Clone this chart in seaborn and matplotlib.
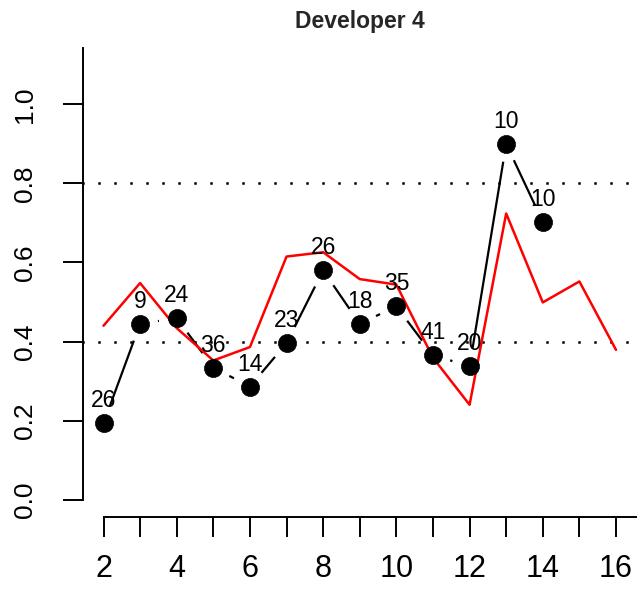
import numpy as np
import pandas as pd
import matplotlib
matplotlib.use("Agg")
import matplotlib.pyplot as plt
import seaborn as sns
from matplotlib.collections import LineCollection

# ---- data ----
title = "Developer 4"
obs_x = [2, 3, 4, 5, 6, 7, 8, 9, 10, 11, 12, 13, 14]
obs_rate = [0.193, 0.445, 0.459, 0.334, 0.286, 0.396, 0.580, 0.445, 0.489,
            0.366, 0.337, 0.900, 0.703]
obs_n = [26, 9, 24, 36, 14, 23, 26, 18, 35, 41, 20, 10, 10]
model_x = list(range(2, 17))
model_rate = [0.440, 0.548, 0.434, 0.352, 0.386, 0.615, 0.626, 0.558, 0.544,
              0.359, 0.240, 0.724, 0.499, 0.552, 0.379]
ref_levels = [0.4, 0.8]
x_ticks = list(range(2, 17))
x_tick_labels = [str(v) if v % 2 == 0 else "" for v in x_ticks]
y_ticks = [0.0, 0.2, 0.4, 0.6, 0.8, 1.0]
y_tick_labels = ["0.0", "0.2", "0.4", "0.6", "0.8", "1.0"]
x_range = (2, 16)
y_range = (0.0, 1.1)

obs = pd.DataFrame({"x": obs_x, "rate": obs_rate, "n": obs_n})
model = pd.DataFrame({"x": model_x, "rate": model_rate})

# ---- style ----
sns.set_style("ticks")
plt.rcParams["font.family"] = ["Liberation Sans", "DejaVu Sans"]

W, H, DPI = 637, 590, 100
fig = plt.figure(figsize=(W / DPI, H / DPI), dpi=DPI)
ax = fig.add_axes([83 / W, 73 / H, 553.5 / W, 469.5 / H])

# R-style 4% padding of the data ranges
xpad = 0.04 * (x_range[1] - x_range[0])
ypad = 0.04 * (y_range[1] - y_range[0])
ax.set_xlim(x_range[0] - xpad, x_range[1] + xpad)
ax.set_ylim(y_range[0] - ypad, y_range[1] + ypad)

# dotted reference levels
px_per_pt = DPI / 72.0
dot_lw = 1.8
period = 16.0 / (dot_lw * px_per_pt)
for lev in ref_levels:
    ax.axhline(lev, color="black", lw=dot_lw,
               linestyle=(0.5, (1.0, period - 1.0)), dash_capstyle="butt",
               zorder=1)

# model curve
sns.lineplot(data=model, x="x", y="rate", color="red", lw=1.8, ax=ax,
             zorder=3, legend=False)

# observed points joined by lines that stop short of each point
pts = ax.transData.transform(np.column_stack([obs["x"], obs["rate"]]))
gap = 18.0
segs = []
for p, q in zip(pts[:-1], pts[1:]):
    d = q - p
    L = np.hypot(*d)
    if L - 2 * gap > 1.0:
        u = d / L
        segs.append(ax.transData.inverted().transform(
            np.array([p + u * gap, q - u * gap])))
ax.add_collection(LineCollection(segs, colors="black", linewidths=1.6,
                                 zorder=2))

sns.scatterplot(data=obs, x="x", y="rate", s=170, color="black",
                edgecolor="black", linewidth=0.5, ax=ax, zorder=4,
                legend=False)

for xv, yv, n in zip(obs["x"], obs["rate"], obs["n"]):
    ax.annotate(str(n), (xv, yv), xytext=(0, 11.5), textcoords="offset points",
                ha="center", va="baseline", fontsize=16.5, color="black",
                zorder=5)

# axes
ax.set_xticks(x_ticks)
ax.set_xticklabels(x_tick_labels,
                   fontfamily=["Liberation Sans Narrow", "Liberation Sans"],
                   fontsize=22)
ax.set_yticks(y_ticks)
ax.set_yticklabels(y_tick_labels, rotation=90, va="center", fontsize=19)
ax.tick_params(axis="both", direction="out", length=14.4, width=1.4,
               color="black", labelcolor="black", bottom=True, left=True,
               top=False, right=False)
ax.tick_params(axis="x", pad=12)
ax.tick_params(axis="y", pad=19)
ax.set_xlabel("")
ax.set_ylabel("")

for side in ("top", "right"):
    ax.spines[side].set_visible(False)
for side in ("left", "bottom"):
    ax.spines[side].set_color("black")
    ax.spines[side].set_linewidth(1.4)
ax.spines["left"].set_bounds(y_ticks[0], y_range[1] + ypad)
ax.spines["bottom"].set_bounds(x_ticks[0], x_range[1] + xpad)

ax.set_title(title, fontsize=16.5, fontweight="bold", pad=14)

fig.savefig("out.png", dpi=DPI)
